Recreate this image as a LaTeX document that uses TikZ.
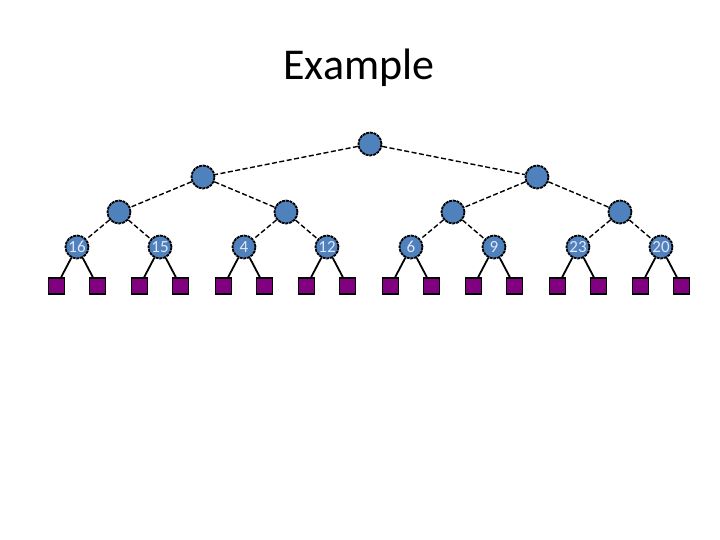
\documentclass[tikz,border=0pt]{standalone}
\usepackage{fontspec}
\setmainfont{Carlito}
\begin{document}
\begin{tikzpicture}[x=1pt,y=-1pt,
  inner/.style={circle,draw=black,dash pattern=on 3pt off 0.8pt,line width=1.8pt,fill={rgb,255:red,79;green,129;blue,189},minimum size=23pt,inner sep=0pt,text={rgb,255:red,225;green,230;blue,250},font=\fontsize{17}{17}\selectfont},
  leaf/.style={rectangle,draw=black,line width=1.8pt,fill={rgb,255:red,128;green,0;blue,128},minimum size=16pt,inner sep=0pt},
  dedge/.style={line width=1.4pt,dash pattern=on 5pt off 2.5pt},
  sedge/.style={line width=1.8pt}]
\useasboundingbox (0,0) rectangle (720,540);
\node[font=\fontsize{44}{44}\selectfont] (title) at (359,68) {Example};
\node[inner] (r) at (370,144) {};
\node[inner] (a) at (203,177) {};
\node[inner] (b) at (537,177) {};
\node[inner] (aa) at (119,212) {};
\node[inner] (ab) at (286,212) {};
\node[inner] (ba) at (453,212) {};
\node[inner] (bb) at (620,212) {};
\node[inner] (n1) at (77,247) {16};
\node[inner] (n2) at (160,247) {15};
\node[inner] (n3) at (244,247) {4};
\node[inner] (n4) at (327,247) {12};
\node[inner] (n5) at (411,247) {6};
\node[inner] (n6) at (494,247) {9};
\node[inner] (n7) at (578,247) {23};
\node[inner] (n8) at (661,247) {20};
\draw[dedge] (r) -- (a); \draw[dedge] (r) -- (b);
\draw[dedge] (a) -- (aa); \draw[dedge] (a) -- (ab);
\draw[dedge] (b) -- (ba); \draw[dedge] (b) -- (bb);
\draw[dedge] (aa) -- (n1); \draw[dedge] (aa) -- (n2);
\draw[dedge] (ab) -- (n3); \draw[dedge] (ab) -- (n4);
\draw[dedge] (ba) -- (n5); \draw[dedge] (ba) -- (n6);
\draw[dedge] (bb) -- (n7); \draw[dedge] (bb) -- (n8);
\foreach \i/\x in {1/77,2/160,3/244,4/327,5/411,6/494,7/578,8/661}{
  \node[leaf] (l\i a) at (\x-20.5,286) {};
  \node[leaf] (l\i b) at (\x+20.5,286) {};
  \draw[sedge] (n\i) -- (l\i a);
  \draw[sedge] (n\i) -- (l\i b);
}
\end{tikzpicture}
\end{document}
